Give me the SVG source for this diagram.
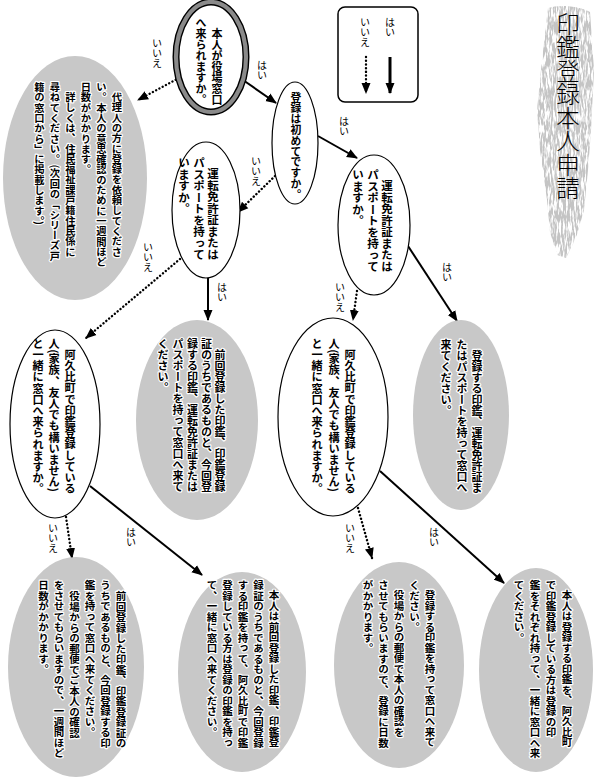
<svg xmlns="http://www.w3.org/2000/svg" width="598" height="781" viewBox="0 0 598 781">
<defs>
<style>
.t{font-family:"Noto Sans CJK JP","Noto Sans CJK SC",sans-serif;font-weight:700;writing-mode:vertical-rl;fill:#000}
.h{stroke:#fff;stroke-width:2.4;stroke-linejoin:round;paint-order:stroke}
.l{font-family:"Noto Sans CJK JP","Noto Sans CJK SC",sans-serif;font-weight:400;font-size:10px;writing-mode:vertical-rl;fill:#000}
.g{fill:#c8c8c8}
.w{fill:#fff;stroke:#000;stroke-width:1.2}
.s{fill:none;stroke:#000;stroke-width:2;marker-end:url(#ah)}
.d{fill:none;stroke:#000;stroke-width:2.4;stroke-linecap:round;stroke-dasharray:0.1 3.6;marker-end:url(#ah)}
</style>
<marker id="ah" markerUnits="userSpaceOnUse" markerWidth="12" markerHeight="10" refX="10" refY="5" orient="auto"><path d="M0,0.5 L11,5 L0,9.5 Z" fill="#000"/></marker>
<filter id="rough" x="-10%" y="-5%" width="120%" height="110%">
<feTurbulence type="fractalNoise" baseFrequency="0.6 0.09" numOctaves="3" seed="7" result="n"/>
<feColorMatrix in="n" type="matrix" values="0 0 0 0 0.55 0 0 0 0 0.55 0 0 0 0 0.55 4.5 0 0 0 -1.6" result="m"/>
<feComposite in="m" in2="SourceGraphic" operator="in"/>
</filter>
</defs>
<rect width="598" height="781" fill="#fff"/>

<g id="title">
<path d="M548,8 C560,4 580,6 590,12 L594,70 L591,130 L588,170 L584,210 L576,238 L566,258 L557,255 L550,232 L547,200 L540,150 L537,110 L542,60 Z" fill="#000" filter="url(#rough)"/>
<text x="568" y="12" style="font-family:'Noto Sans CJK JP',sans-serif;font-weight:300;font-size:23.5px;writing-mode:vertical-rl">印鑑登録本人申請</text>
</g>

<g id="legend">
<rect x="338" y="7" width="80" height="95" rx="7" fill="#fff" stroke="#000" stroke-width="1.5"/>
<text class="l" x="390" y="17">はい</text>
<text class="l" x="365" y="17">いいえ</text>
<line x1="390" y1="57" x2="390" y2="93" stroke="#000" stroke-width="3" marker-end="url(#ah)"/>
<line x1="366" y1="57" x2="366" y2="93" class="d" stroke-width="2.6"/>
</g>

<g id="connectors">
<path class="s" d="M243,80 L276,103"/>
<path class="d" d="M179,78 L138,100"/>
<path class="s" d="M318,136 L357,158"/>
<path class="d" d="M275,176 L238,212"/>
<path class="s" d="M208,278 L208,320"/>
<path class="d" d="M180,259 L86,338"/>
<path class="d" d="M357,291 L353,320"/>
<path class="s" d="M408,246 L457,321"/>
<path class="d" d="M66,517 L72,558"/>
<path class="s" d="M90,486 L202,575"/>
<path class="d" d="M358,508 L372,558"/>
<path class="s" d="M380,471 L504,583"/>
</g>

<g id="labels">
<text class="l" x="157" y="38">いいえ</text>
<text class="l" x="262" y="60">はい</text>
<text class="l" x="344" y="116">はい</text>
<text class="l" x="256" y="156">いいえ</text>
<text class="l" x="148" y="242">いいえ</text>
<text class="l" x="222" y="282">はい</text>
<text class="l" x="340" y="282">いいえ</text>
<text class="l" x="447" y="262">はい</text>
<text class="l" x="53" y="523">いいえ</text>
<text class="l" x="131" y="527">はい</text>
<text class="l" x="350" y="523">いいえ</text>
<text class="l" x="434" y="527">はい</text>
</g>

<g id="n-start">
<ellipse cx="211" cy="57" rx="35" ry="55" fill="#fff" stroke="#000" stroke-width="7"/>
<ellipse cx="211" cy="57" rx="35" ry="55" fill="none" stroke="#8a8a8a" stroke-width="4.2"/>
<g class="t" style="font-size:11px">
<text x="217" y="28">本人が役場窓口</text>
<text x="201" y="17">へ来られますか。</text>
</g>
</g>

<g id="n-proxy">
<ellipse class="g" cx="75" cy="178" rx="72" ry="122"/>
<g class="t h" style="font-size:10.3px">
<text x="117" y="92">代理人の方に登録を依頼してくださ</text>
<text x="101.5" y="82">い。本人の意思確認のために一週間ほど</text>
<text x="86" y="82">日数がかかります。</text>
<text x="70.5" y="92">詳しくは、住民福祉課戸籍住民係に</text>
<text x="55" y="82">尋ねてください。(次回の「シリーズ戸</text>
<text x="39.5" y="82">籍の窓口から」に掲載します。)</text>
</g>
</g>

<g id="n-first">
<ellipse class="w" cx="295" cy="143" rx="23" ry="61"/>
<text class="t" x="296" y="92" style="font-size:10.8px">登録は初めてですか。</text>
</g>

<g id="n-id-left">
<ellipse class="w" cx="206" cy="210" rx="34" ry="68"/>
<g class="t" style="font-size:11.5px">
<text x="213" y="168">運転免許証または</text>
<text x="199" y="157">パスポートを持って</text>
<text x="184" y="157">いますか。</text>
</g>
</g>

<g id="n-id-right">
<ellipse class="w" cx="374" cy="225" rx="36" ry="70"/>
<g class="t" style="font-size:11.5px">
<text x="387" y="180">運転免許証または</text>
<text x="373" y="169">パスポートを持って</text>
<text x="358" y="169">いますか。</text>
</g>
</g>

<g id="n-companion-left">
<ellipse class="w" cx="55" cy="424" rx="45" ry="94"/>
<g class="t" style="font-size:11.2px">
<text x="70" y="349">阿久比町で印鑑登録している</text>
<text x="54" y="338">人(家族、友人でも構いません)</text>
<text x="38" y="338">と一緒に窓口へ来られますか。</text>
</g>
</g>

<g id="n-bring-prev">
<ellipse class="g" cx="197" cy="420" rx="61" ry="100"/>
<g class="t h" style="font-size:11px">
<text x="220" y="349">前回登録した印鑑、印鑑登録</text>
<text x="206.5" y="338">証のうちであるものと、今回登</text>
<text x="192.5" y="338">録する印鑑、運転免許証または</text>
<text x="178" y="338">パスポートを持って窓口へ来て</text>
<text x="163" y="338">ください。</text>
</g>
</g>

<g id="n-companion-right">
<ellipse class="w" cx="333" cy="417" rx="55" ry="99"/>
<g class="t" style="font-size:11.2px">
<text x="350" y="349">阿久比町で印鑑登録している</text>
<text x="334" y="338">人(家族、友人でも構いません)</text>
<text x="317" y="338">と一緒に窓口へ来られますか。</text>
</g>
</g>

<g id="n-bring-new">
<ellipse class="g" cx="461" cy="415" rx="48" ry="95"/>
<g class="t h" style="font-size:11px">
<text x="477" y="350">登録する印鑑、運転免許証ま</text>
<text x="462" y="339">たはパスポートを持って窓口へ</text>
<text x="446" y="339">来てください。</text>
</g>
</g>

<g id="n-a">
<ellipse class="g" cx="76" cy="667" rx="68" ry="110"/>
<g class="t h" style="font-size:10.5px">
<text x="121" y="591">前回登録した印鑑、印鑑登録証の</text>
<text x="105.5" y="580">うちであるものと、今回登録する印</text>
<text x="90" y="580">鑑を持って窓口へ来てください。</text>
<text x="74.5" y="591">役場からの郵便でご本人の確認</text>
<text x="59" y="580">をさせてもらいますので、一週間ほど</text>
<text x="43.5" y="580">日数がかかります。</text>
</g>
</g>

<g id="n-b">
<ellipse class="g" cx="242" cy="672" rx="64" ry="100"/>
<g class="t h" style="font-size:10.5px">
<text x="274" y="590">本人は前回登録した印鑑、印鑑登</text>
<text x="258.5" y="580">録証のうちであるものと、今回登録</text>
<text x="243" y="580">する印鑑を持って、阿久比町で印鑑</text>
<text x="227.5" y="580">登録している方は登録の印鑑を持っ</text>
<text x="212" y="580">て、一緒に窓口へ来てください。</text>
</g>
</g>

<g id="n-c">
<ellipse class="g" cx="399" cy="665" rx="65" ry="103"/>
<g class="t h" style="font-size:10.5px">
<text x="430" y="590">登録する印鑑を持って窓口へ来て</text>
<text x="414.5" y="580">ください。</text>
<text x="399" y="590">役場からの郵便で本人の確認を</text>
<text x="383.5" y="580">させてもらいますので、登録に日数</text>
<text x="368" y="580">がかかります。</text>
</g>
</g>

<g id="n-d">
<ellipse class="g" cx="536" cy="670" rx="57" ry="102"/>
<g class="t h" style="font-size:10.5px">
<text x="567" y="590">本人は登録する印鑑を、阿久比町</text>
<text x="551" y="580">で印鑑登録している方は登録の印</text>
<text x="535" y="580">鑑をそれぞれ持って、一緒に窓口へ来</text>
<text x="519" y="580">てください。</text>
</g>
</g>
</svg>
